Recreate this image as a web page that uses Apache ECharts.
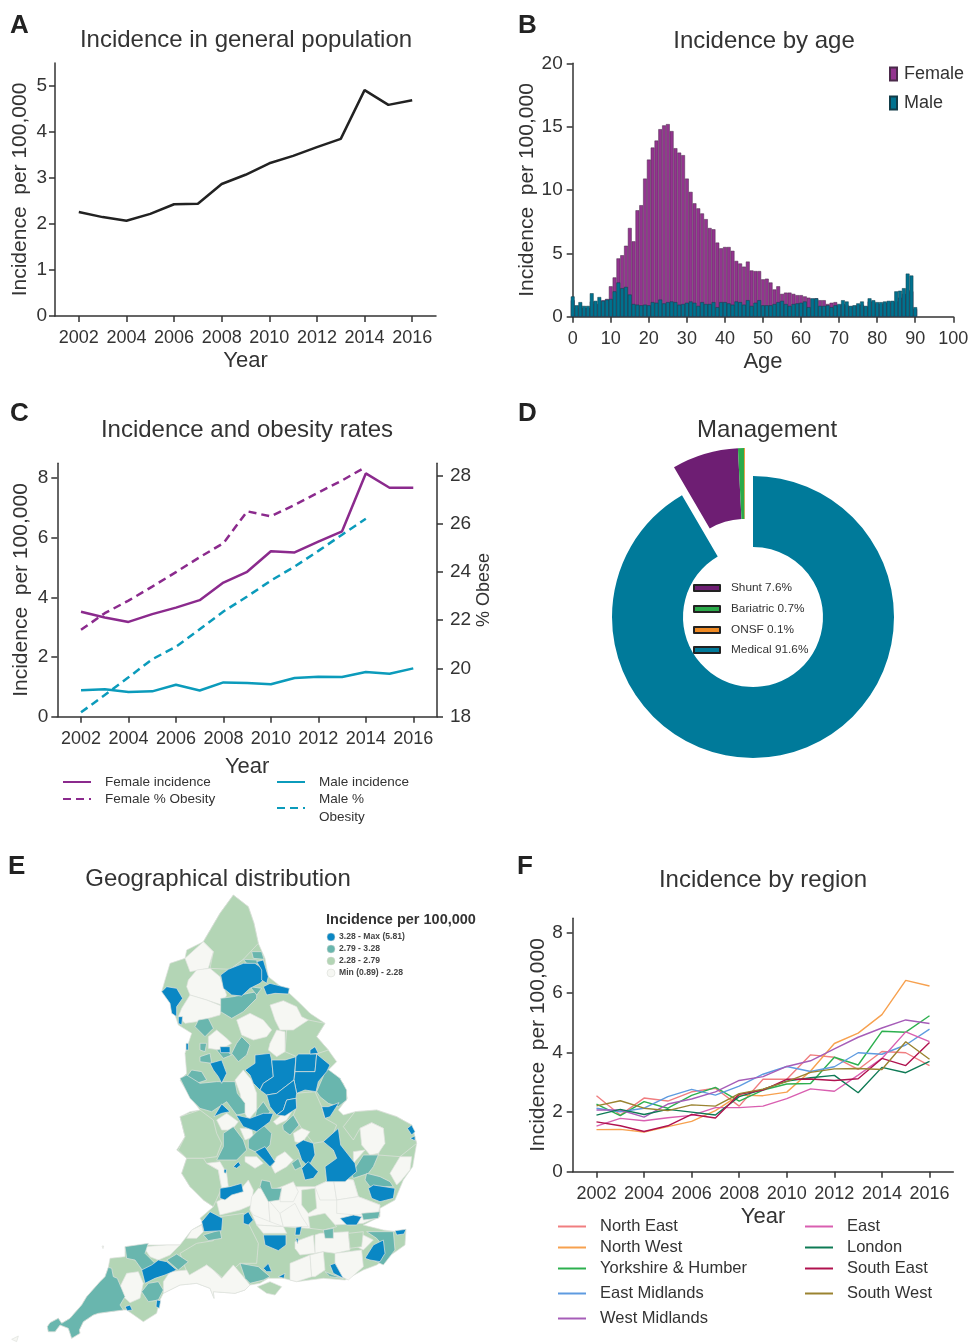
<!DOCTYPE html>
<html>
<head>
<meta charset="utf-8">
<title>Incidence figure</title>
<style>
  html, body { margin: 0; padding: 0; background: #fff; }
  #chart { width: 968px; height: 1343px; }
</style>
<script src="https://cdn.jsdelivr.net/npm/echarts@6/dist/echarts.min.js"></script>
</head>
<body>
<div id="chart"></div>
<script>
// ---- data ----
const years = [2002, 2003, 2004, 2005, 2006, 2007, 2008, 2009, 2010, 2011, 2012, 2013, 2014, 2015, 2016];
const yearTicks = [2002, 2004, 2006, 2008, 2010, 2012, 2014, 2016];

const generalIncidence = [2.26, 2.15, 2.07, 2.22, 2.43, 2.44, 2.87, 3.07, 3.32, 3.48, 3.67, 3.85, 4.91, 4.59, 4.69];

// ages 0..100 on the axis, bars only run to 90
const ageCategories = [];
for (let a = 0; a <= 100; a++) ageCategories.push(String(a));
const femaleByAge = [
  1.3, 0.7, 0.9, 0.7, 0.7, 1.2, 1.0, 1.0, 1.3, 1.4,
  2.4, 3.1, 4.6, 4.85, 5.6, 7.0, 5.95, 8.4, 8.8, 10.9,
  12.4, 13.35, 13.9, 14.8, 15.1, 15.2, 14.65, 13.3, 12.95, 12.75,
  10.9, 9.85, 8.95, 8.55, 8.15, 7.7, 7.0, 6.9, 5.85, 5.4,
  5.5, 5.5, 5.2, 4.4, 4.2, 3.95, 4.35, 3.65, 3.6, 3.6,
  2.95, 3.0, 2.7, 2.15, 2.4, 1.8, 1.9, 1.9, 1.8, 1.7,
  1.7, 1.6, 1.5, 1.4, 1.45, 1.3, 1.3, 1.0, 1.1, 1.15,
  0.9, 1.0, 0.9, 0.8, 0.85, 0.9, 0.95, 0.8, 1.2, 1.2,
  1.05, 1.0, 1.1, 1.1, 1.2, 1.2, 1.5, 1.8, 2.1, 2.0, 0.6
];
const maleByAge = [
  1.6, 0.9, 1.15, 0.85, 0.85, 1.85, 1.25, 1.55, 1.25, 1.35,
  1.4, 2.0, 2.7, 2.25, 2.35, 1.75, 1.0, 0.95, 0.9, 0.95,
  0.9, 1.15, 1.1, 1.35, 1.05, 1.15, 1.2, 1.15, 0.95, 1.0,
  1.1, 1.2, 1.1, 0.85, 1.15, 1.0, 1.0, 1.15, 0.75, 1.15,
  1.15, 1.05, 0.95, 1.2, 1.15, 0.95, 1.3, 0.85, 1.1, 1.3,
  0.9, 0.9, 0.9, 1.0, 1.15, 1.25, 1.0, 0.85, 1.0, 1.05,
  1.1, 1.2, 0.75, 1.45, 1.45, 0.85, 0.85, 0.9, 0.75, 0.9,
  1.0, 1.3, 1.2, 0.85, 0.9, 1.05, 1.2, 0.85, 1.45, 1.3,
  1.15, 1.15, 1.2, 1.25, 1.25, 2.0, 2.05, 2.25, 3.4, 3.25, 0.75
];

const femaleIncidence = [3.52, 3.33, 3.18, 3.44, 3.66, 3.91, 4.5, 4.86, 5.55, 5.51, 5.87, 6.22, 8.16, 7.68, 7.68];
const maleIncidence = [0.89, 0.92, 0.83, 0.85, 1.07, 0.88, 1.15, 1.13, 1.09, 1.3, 1.34, 1.33, 1.5, 1.44, 1.62];
const femaleObesity = [21.6, 22.29, 22.81, 23.39, 23.99, 24.61, 25.19, 26.51, 26.3, 26.78, 27.29, 27.79, 28.35];
const maleObesity = [18.18, 18.9, 19.63, 20.38, 20.9, 21.62, 22.36, 22.98, 23.64, 24.22, 24.87, 25.54, 26.2];

const managementNames = ['Shunt 7.6%', 'Bariatric 0.7%', 'ONSF 0.1%', 'Medical 91.6%'];
const managementShares = [7.6, 0.7, 0.1, 91.6];

const northEast = [2.55, 1.9, 2.47, 2.37, 2.68, 2.8, 2.2, 3.1, 3.1, 3.92, 3.84, 3.43, 4.03, 3.99, 3.56];
const northWest = [1.41, 1.42, 1.33, 1.51, 1.69, 2.05, 2.57, 2.55, 2.67, 3.38, 4.3, 4.65, 5.27, 6.42, 6.23];
const yorkshire = [2.27, 1.88, 2.35, 2.13, 2.56, 2.83, 2.37, 2.74, 2.94, 2.96, 3.84, 3.58, 4.71, 4.68, 5.23];
const eastMidlands = [2.13, 2.01, 2.13, 2.52, 2.76, 2.57, 2.87, 3.27, 3.53, 3.36, 3.52, 3.99, 3.94, 4.25, 4.78];
const westMidlands = [2.07, 2.07, 1.83, 2.27, 2.44, 2.68, 3.06, 3.19, 3.53, 3.72, 4.12, 4.51, 4.82, 5.09, 4.97];
const east = [1.53, 1.79, 1.71, 1.81, 1.89, 2.15, 2.15, 2.2, 2.45, 2.78, 2.7, 3.24, 3.8, 4.69, 4.36];
const london = [1.9, 2.09, 1.92, 2.09, 2.0, 1.9, 2.52, 2.76, 3.04, 3.15, 3.23, 2.65, 3.5, 3.32, 3.7];
const southEast = [1.67, 1.54, 1.35, 1.54, 1.92, 1.8, 2.6, 2.74, 3.1, 3.11, 3.06, 3.12, 3.8, 3.56, 4.33];
const southWest = [2.21, 2.38, 2.13, 2.05, 2.24, 2.2, 2.62, 2.77, 3.02, 3.33, 3.45, 3.46, 3.43, 4.36, 3.77];

const mapClassLabels = ['3.28 - Max (5.81)', '2.79 - 3.28', '2.28 - 2.79', 'Min (0.89) - 2.28'];

// area outlines for the map, traced flat as x,y,x,y in a 3x picture space
const greenAreas = [
  [700,45,745,80,762,130,775,190,795,235,805,290,868,340,900,370,930,400,975,430,950,470,985,510,1010,545,985,570,1030,610,1042,655,1015,690,1030,705,1065,695,1130,690,1190,710,1235,735,1250,790,1238,860,1210,900,1185,960,1140,985,1140,1010,1090,1035,1130,1045,1150,1050,1190,1055,1218,1048,1215,1095,1180,1120,1130,1155,1090,1170,1035,1200,970,1195,890,1205,850,1195,805,1195,780,1210,750,1215,735,1230,705,1240,640,1235,642,1255,630,1225,590,1210,540,1215,490,1240,480,1260,470,1300,430,1325,380,1290,370,1290,330,1295,295,1300,280,1305,250,1325,238,1350,240,1360,215,1375,205,1345,180,1335,165,1355,145,1355,142,1340,150,1328,175,1315,185,1330,210,1315,245,1275,260,1250,300,1205,315,1190,325,1162,330,1135,375,1130,375,1100,440,1095,500,1095,540,1095,575,1050,610,1030,600,1015,640,980,610,960,615,950,570,920,545,880,560,835,530,810,555,770,540,710,570,695,600,690,570,650,540,600,560,580,555,520,565,490,575,460,535,435,525,405,505,350,485,335,495,300,510,250,555,235,560,210,610,185,660,100],
  [535,810,555,770,540,710,600,690,640,720,650,760,665,790,650,830,610,835,560,835],
  [545,880,560,835,610,835,620,850,655,870,665,925,640,980,610,960,570,920],
  [590,1090,640,1082,660,1010,730,1000,775,1090,770,1150,720,1150,670,1195,620,1155,570,1190,560,1175,540,1120],
  [772,1220,810,1205,845,1220,825,1245,800,1240],
  [885,640,945,635,965,680,975,715,1010,735,1000,760,970,785,940,790,905,745,880,705,890,680],
  [1065,695,1130,690,1190,710,1235,735,1250,790,1200,830,1135,825,1150,745,1115,728,1080,745,1060,780,1030,740],
  [660,100,700,45,745,80,762,130,775,190,730,238,690,268,630,265,640,215,610,185],
  [860,450,925,420,975,430,950,470,985,510,940,525,890,530,855,515]
];
const whiteAreas = [
  [755,950,845,920,945,920,1000,895,1060,900,1075,950,1140,975,1135,1010,1090,1030,1000,1035,925,1045,850,1040,770,1035,750,990],
  [960,1060,1045,1055,1050,1110,1005,1120,970,1115,945,1120,945,1065],
  [555,235,610,185,640,215,625,265,570,275],
  [565,300,590,270,630,265,660,290,680,345,665,375,620,360,570,345,560,320],
  [545,385,570,345,620,360,665,378,660,405,625,415,590,425,555,430,535,410],
  [810,375,850,362,890,380,905,410,925,420,880,450,840,450,825,420],
  [710,420,750,400,790,420,815,450,800,470,760,480,725,465],
  [625,470,650,450,680,475,695,490,660,510,625,505],
  [810,490,830,450,855,455,855,515,830,530,805,510],
  [705,600,730,570,755,600,770,640,770,690,745,720,730,690,720,640],
  [820,725,850,700,875,695,860,720,830,735],
  [650,720,680,700,715,725,695,750,665,750],
  [720,745,755,745,760,770,735,780],
  [880,760,905,745,930,755,905,790,885,785],
  [1080,745,1115,728,1150,745,1155,790,1135,820,1110,825,1085,795],
  [1170,880,1200,830,1235,830,1230,870,1205,900,1190,915],
  [830,830,855,815,880,840,860,860,825,880,815,860],
  [735,830,770,830,790,850,765,865,735,845],
  [1060,815,1095,810,1060,850],
  [620,850,660,845,680,880,685,920,665,925,655,870],
  [945,920,1000,895,1010,960,960,960],
  [1000,895,1060,900,1075,950,1010,960],
  [1010,960,1075,950,1140,975,1135,1000,1070,1005,1010,1000],
  [650,965,720,930,745,900,760,930,755,975,720,990,660,1005],
  [755,950,775,925,810,930,805,960,810,1025,760,1005,750,990],
  [805,960,840,1000,850,1040,810,1025],
  [840,1000,885,970,905,1010,925,1040,890,1040,850,1040],
  [845,920,880,905,895,935,880,965,840,965],
  [560,1075,575,1050,605,1035,610,1055,590,1075],
  [770,1035,850,1040,860,1060,790,1060],
  [885,1085,940,1065,945,1120,900,1125,885,1105],
  [870,1200,870,1150,930,1125,935,1190,890,1205],
  [930,1125,970,1115,975,1170,945,1190,935,1190],
  [1005,1120,1085,1110,1090,1160,1045,1200,1025,1190,1005,1150],
  [1060,1095,1090,1065,1120,1080,1090,1110],
  [430,1100,500,1095,540,1095,510,1125,475,1140,450,1130],
  [360,1220,380,1180,415,1175,430,1210,420,1255,390,1268,365,1245],
  [490,1205,510,1175,560,1170,568,1185,620,1155,640,1170,665,1195,700,1155,730,1190,750,1215,735,1230,705,1240,640,1235,642,1255,630,1225,590,1210,540,1215,490,1240],
  [35,1378,55,1368,50,1385],
  [306,1098,311,1098,309,1106]
];
// green districts lying inside the white south-east block
const greenPatches = [
  [905,930,945,925,950,985,925,1000,905,975],
  [925,1010,975,1000,1010,1040,970,1050,930,1045],
  [1045,1060,1090,1055,1085,1100,1050,1105]
];
const tealAreas = [
  [755,215,785,215,792,238,760,235],
  [730,238,770,240,775,252,740,250],
  [662,355,700,350,745,340,770,335,770,355,730,395,695,415,662,395],
  [750,320,785,325,770,345],
  [595,420,625,415,640,445,615,470,585,440],
  [710,490,725,470,750,495,740,525,715,545,695,520],
  [650,510,670,505,695,525,670,535],
  [600,490,620,490,615,515,600,510],
  [600,530,630,520,635,550,600,545],
  [560,590,575,570,605,575,620,600,590,610,560,610],
  [540,595,560,585,600,610,650,605,705,605,712,640,735,670,735,700,710,705,680,665,635,695,600,685,570,655],
  [770,690,790,665,810,695,790,725,765,710],
  [950,635,980,565,1020,595,1040,630,1040,660,1015,680,985,670,960,650],
  [848,735,880,705,897,735,870,765,850,750],
  [670,760,700,740,730,780,740,810,710,840,650,840,670,800],
  [745,780,790,735,815,760,810,795,790,815,765,815,745,805],
  [1090,825,1135,825,1120,860,1105,880,1060,895,1055,880],
  [1100,880,1140,890,1170,905,1180,920,1110,920,1095,900],
  [785,900,810,905,815,925,845,925,838,960,805,965,780,920],
  [610,1065,660,1050,665,1075,625,1082],
  [1085,1000,1140,995,1135,1015,1090,1020],
  [1100,1055,1180,1055,1185,1110,1150,1155,1120,1140,1150,1100,1130,1075],
  [970,1050,1000,1045,1000,1075,975,1075],
  [375,1100,445,1090,435,1120,470,1155,430,1175,405,1140,380,1135],
  [500,1140,530,1122,565,1145,535,1170],
  [142,1340,150,1328,175,1315,185,1330,210,1315,245,1275,260,1250,300,1205,315,1190,325,1162,335,1165,340,1190,352,1195,375,1250,360,1275,370,1290,330,1295,295,1300,280,1305,250,1325,238,1350,240,1360,215,1375,205,1345,180,1335,165,1355,145,1355],
  [425,1235,445,1210,475,1205,490,1230,475,1260,445,1265],
  [720,1150,775,1160,810,1190,790,1200,750,1210,735,1195],
  [975,1175,1000,1185,1030,1195,990,1190],
  [875,850,895,835,905,860,885,870]
];
const blueAreas = [
  [662,285,685,268,730,250,765,250,790,268,800,290,780,310,750,325,725,348,695,345,670,325],
  [770,245,790,240,805,290,800,310,785,300,785,270],
  [790,320,810,310,868,325,865,342,825,340,800,345],
  [485,335,500,320,530,325,548,355,530,380,530,410,515,400,510,370],
  [535,410,548,410,545,435,535,430],
  [558,490,565,490,565,510,558,510],
  [660,500,690,500,690,518,662,518],
  [630,550,665,540,680,580,665,610,655,590,640,570],
  [735,570,765,550,765,525,810,520,815,540,820,590,790,610,780,630,760,610,750,585],
  [815,540,855,540,888,530,882,600,830,640,800,645,780,630,790,610,820,590],
  [888,530,895,522,950,522,945,575,885,575],
  [950,522,990,555,980,575,955,605,948,635,915,630,890,640,882,600,885,575,945,575],
  [830,640,882,600,890,640,888,655,860,660,850,690,830,705,810,680,800,645],
  [860,660,888,655,890,685,855,708,830,705,850,690],
  [930,510,945,500,955,520,930,522],
  [965,680,985,680,1017,668,990,710,975,715],
  [642,710,665,672,690,695,665,700],
  [708,705,750,715,790,700,820,700,810,725,770,755,730,740],
  [1222,745,1235,735,1245,755,1235,765],
  [1230,775,1245,768,1245,782],
  [885,795,910,780,940,790,945,825,925,860,905,840,895,810],
  [905,865,925,845,955,875,940,895,915,900],
  [970,785,1015,745,1022,795,1065,850,1070,875,1035,905,980,905,975,860,1010,835,1000,810],
  [765,815,795,800,825,845,810,860,790,840],
  [700,860,715,845,722,855,710,865],
  [672,868,680,868,678,880,672,878],
  [660,925,690,920,725,910,730,935,695,945,675,960,660,955],
  [1105,925,1120,915,1185,925,1180,955,1140,965,1115,955],
  [605,1025,630,995,668,1015,665,1052,612,1055],
  [730,1005,745,995,760,1020,745,1035,730,1030],
  [888,1042,905,1040,900,1065,885,1065],
  [887,1075,895,1075,893,1092],
  [790,1065,858,1065,858,1095,835,1112,795,1095],
  [1020,1015,1060,1005,1085,1010,1070,1035,1040,1035],
  [1185,1052,1218,1048,1212,1062,1190,1065],
  [1095,1135,1120,1095,1150,1080,1155,1120,1140,1145,1110,1140],
  [425,1170,455,1155,475,1140,500,1145,530,1170,495,1185,465,1195,435,1210],
  [375,1280,390,1275,397,1290,382,1292],
  [470,1260,482,1262,478,1285,468,1280],
  [790,1165,805,1150,815,1175,800,1175],
  [835,1190,855,1180,852,1195],
  [990,1155,1005,1150,1030,1195,1000,1180]
];

// ---- styling ----
const FONT = '"Liberation Sans", Arial, sans-serif';
const TEXT = '#333333';
const AXIS = '#333333';
const PURPLE = '#8B2A8D';
const BLUE = '#0B9BBB';
const MAP_BLUE = '#0A87C4', MAP_TEAL = '#69B6AE', MAP_GREEN = '#B3D5B5', MAP_WHITE = '#F6F7F3';

function pairs(xs, ys) {
  return ys.map(function (y, i) { return [xs[i], y]; });
}

function axisLine() {
  return { show: true, onZero: false, lineStyle: { color: AXIS, width: 1.5 } };
}

function xAxis(gridIndex, min, max, ticks, name, nameGap, nameSize) {
  return {
    type: 'value', gridIndex: gridIndex, min: min, max: max,
    name: name, nameLocation: 'middle', nameGap: nameGap,
    nameTextStyle: { color: TEXT, fontFamily: FONT, fontSize: nameSize },
    axisLine: axisLine(),
    axisTick: { show: true, length: 6, customValues: ticks, lineStyle: { color: AXIS, width: 1.5 } },
    axisLabel: { color: TEXT, fontFamily: FONT, fontSize: 18, margin: 13, customValues: ticks, formatter: function (v) { return String(v); } },
    splitLine: { show: false }
  };
}

function yAxis(gridIndex, min, max, ticks, name, nameGap, margin, nameSize, position) {
  return {
    type: 'value', gridIndex: gridIndex, min: min, max: max, position: position || 'left',
    name: name, nameLocation: 'middle', nameGap: nameGap, nameRotate: 90,
    nameTextStyle: { color: TEXT, fontFamily: FONT, fontSize: nameSize },
    axisLine: axisLine(),
    axisTick: { show: true, length: 6, customValues: ticks, lineStyle: { color: AXIS, width: 1.5 } },
    axisLabel: { color: TEXT, fontFamily: FONT, fontSize: 19, margin: margin, customValues: ticks },
    splitLine: { show: false }
  };
}

function lineSeries(name, xIdx, yIdx, data, color, width, dashed) {
  return {
    type: 'line', name: name, xAxisIndex: xIdx, yAxisIndex: yIdx,
    data: data, symbol: 'none', smooth: false, silent: true,
    lineStyle: { color: color, width: width, type: dashed ? [8, 5] : 'solid' },
    itemStyle: { color: color }
  };
}

// transparent itemStyle hides the round marker a line series puts in its legend entry
function lineLegend(name, left, top, fontSize, gap, extra) {
  return Object.assign({
    data: [name], left: left, top: top, padding: 0, selectedMode: false,
    itemWidth: 28, itemHeight: 12, orient: 'horizontal',
    itemStyle: { color: 'transparent', borderColor: 'transparent', borderWidth: 0 },
    textStyle: { color: TEXT, fontFamily: FONT, fontSize: fontSize, padding: [0, 0, 0, gap] }
  }, extra || {});
}

function boxLegend(name, left, top, fontSize, gap, extra) {
  return Object.assign({
    data: [name], left: left, top: top, padding: 0, selectedMode: false,
    icon: 'rect', orient: 'horizontal',
    textStyle: { color: TEXT, fontFamily: FONT, fontSize: fontSize, padding: [0, 0, 0, gap] }
  }, extra);
}

function titleAt(text, x, y) {
  return { text: text, left: x, top: y, textAlign: 'center', padding: 0,
    textStyle: { color: '#333333', fontFamily: FONT, fontSize: 24, fontWeight: 'normal' } };
}

function letterAt(text, x, y) {
  return { text: text, left: x, top: y, padding: 0,
    textStyle: { color: '#222222', fontFamily: FONT, fontSize: 26, fontWeight: 'bold' } };
}

// ---- map ----
const mapFeatures = [];
const mapData = [];
let minX = Infinity, maxX = -Infinity, minY = Infinity, maxY = -Infinity;
function addAreas(areas, color, prefix) {
  areas.forEach(function (flat, i) {
    const ring = [];
    for (let k = 0; k < flat.length; k += 2) {
      ring.push([flat[k], -flat[k + 1]]);
      minX = Math.min(minX, flat[k]); maxX = Math.max(maxX, flat[k]);
      minY = Math.min(minY, flat[k + 1]); maxY = Math.max(maxY, flat[k + 1]);
    }
    ring.push(ring[0].slice());
    const name = prefix + i;
    mapFeatures.push({ type: 'Feature', properties: { name: name }, geometry: { type: 'Polygon', coordinates: [ring] } });
    mapData.push({ name: name, value: 1, itemStyle: { areaColor: color } });
  });
}
addAreas(greenAreas, MAP_GREEN, 'g');
addAreas(whiteAreas, MAP_WHITE, 'w');
addAreas(greenPatches, MAP_GREEN, 'p');
addAreas(tealAreas, MAP_TEAL, 't');
addAreas(blueAreas, MAP_BLUE, 'b');
echarts.registerMap('england', { type: 'FeatureCollection', features: mapFeatures });

// ---- series ----
const series = [];
series.push(lineSeries('Incidence', 0, 0, pairs(years, generalIncidence), '#222222', 2.5));

series.push({
  type: 'bar', name: 'Female', xAxisIndex: 1, yAxisIndex: 1, data: femaleByAge,
  barWidth: 3.8, barGap: '-100%', clip: false, silent: true,
  itemStyle: { color: '#93348F', borderColor: '#4a2a4a', borderWidth: 0.5 }
});
series.push({
  type: 'bar', name: 'Male', xAxisIndex: 1, yAxisIndex: 1, data: maleByAge,
  barWidth: 3.8, barGap: '-100%', clip: false, silent: true,
  itemStyle: { color: '#00728F', borderColor: '#123c48', borderWidth: 0.5 }
});

series.push(lineSeries('Female incidence', 2, 2, pairs(years, femaleIncidence), PURPLE, 2.5));
series.push(lineSeries('Female % Obesity', 2, 3, pairs(years, femaleObesity), PURPLE, 2.5, true));
series.push(lineSeries('Male incidence', 2, 2, pairs(years, maleIncidence), BLUE, 2.5));
series.push(lineSeries('Male % Obesity', 2, 3, pairs(years, maleObesity), BLUE, 2.5, true));

const sliceColors = ['#6E1E73', '#2BAA4A', '#F08A24', '#007A9A'];
function pieItem(i) {
  return { name: managementNames[i], value: managementShares[i], itemStyle: { color: sliceColors[i] } };
}
const pieBase = {
  type: 'pie', radius: [70, 141], startAngle: 90, clockwise: true, silent: true,
  label: { show: false }, labelLine: { show: false }, emphasis: { disabled: true }
};
series.push(Object.assign({}, pieBase, {
  center: [753, 617],
  data: [pieItem(3), { name: 'rest', value: managementShares[0] + managementShares[1] + managementShares[2], itemStyle: { color: 'transparent' } }]
}));
// the three small slices are pulled out together, so they get their own centre
series.push(Object.assign({}, pieBase, {
  center: [745, 589],
  data: [{ name: 'other', value: managementShares[3], itemStyle: { color: 'transparent' } }, pieItem(0), pieItem(1), pieItem(2)]
}));

series.push({
  type: 'map', map: 'england', aspectScale: 1, silent: true, roam: false, showLegendSymbol: false,
  layoutCenter: [(minX + maxX) / 2 / 3, (minY + maxY) / 2 / 3 + 880],
  layoutSize: Math.max(maxX - minX, maxY - minY) / 3,
  label: { show: false }, emphasis: { disabled: true }, select: { disabled: true },
  itemStyle: { borderColor: '#dfe3de', borderWidth: 0.7 },
  data: mapData
});

const regionSeries = [
  ['North East', northEast, '#F07E80'],
  ['North West', northWest, '#F7A14F'],
  ['Yorkshire & Humber', yorkshire, '#2DB04F'],
  ['East Midlands', eastMidlands, '#5E9BE0'],
  ['West Midlands', westMidlands, '#A65DB8'],
  ['East', east, '#D95FB0'],
  ['London', london, '#0E7A55'],
  ['South East', southEast, '#B0124F'],
  ['South West', southWest, '#9A8330']
];
regionSeries.forEach(function (r) {
  series.push(lineSeries(r[0], 3, 4, pairs(years, r[1]), r[2], 1.4));
});

// ---- legends, one per entry because the rows are unevenly spaced ----
const legends = [
  boxLegend('Female', 889, 65, 18, 2, { itemWidth: 7, itemHeight: 13 }),
  boxLegend('Male', 889, 94, 18, 2, { itemWidth: 7, itemHeight: 13 }),
  lineLegend('Female incidence', 62, 775, 13.5, 9),
  lineLegend('Female % Obesity', 62, 792, 13.5, 9),
  lineLegend('Male incidence', 276, 775, 13.5, 9),
  lineLegend('Male % Obesity', 276, 790, 13.5, 9, {
    formatter: function () { return 'Male %\nObesity'; },
    textStyle: { color: TEXT, fontFamily: FONT, fontSize: 13.5, lineHeight: 18, padding: [0, 0, 0, 9] }
  })
];
const mgmtTops = [582, 603, 624, 644];
managementNames.forEach(function (n, i) {
  legends.push(boxLegend(n, 693, mgmtTops[i], 11.8, 6, { itemWidth: 26, itemHeight: 6, itemStyle: { borderColor: '#222', borderWidth: 2 } }));
});
const regionTops = [1218, 1239, 1260, 1285, 1310, 1218, 1239, 1260, 1285];
regionSeries.forEach(function (r, i) {
  legends.push(lineLegend(r[0], i < 5 ? 557 : 804, regionTops[i], 16.5, 9));
});

// ---- map key ----
const keyColors = [MAP_BLUE, MAP_TEAL, MAP_GREEN, MAP_WHITE];
const keyRows = [937, 949, 961, 973];
const graphics = [{
  type: 'text', left: 326, top: 912, silent: true,
  style: { text: 'Incidence per 100,000', fill: '#333', font: 'bold 14.5px ' + FONT }
}];
mapClassLabels.forEach(function (label, i) {
  graphics.push({ type: 'circle', silent: true, shape: { cx: 331, cy: keyRows[i], r: 4 }, style: { fill: keyColors[i], stroke: '#d4d8d3', lineWidth: 0.5 } });
  graphics.push({ type: 'text', left: 339, top: keyRows[i] - 5, silent: true, style: { text: label, fill: '#444', font: 'bold 8.6px ' + FONT } });
});

const option = {
  animation: false,
  backgroundColor: '#ffffff',
  title: [
    letterAt('A', 10, 13), titleAt('Incidence in general population', 246, 28),
    letterAt('B', 518, 13), titleAt('Incidence by age', 764, 29),
    letterAt('C', 10, 401), titleAt('Incidence and obesity rates', 247, 418),
    letterAt('D', 518, 401), titleAt('Management', 767, 418),
    letterAt('E', 8, 854), titleAt('Geographical distribution', 218, 867),
    letterAt('F', 517, 854), titleAt('Incidence by region', 763, 868)
  ],
  legend: legends,
  graphic: graphics,
  grid: [
    { left: 55, top: 63, width: 381, height: 253, outerBoundsMode: 'none' },
    { left: 572.7, top: 63.3, width: 380.6, height: 253.4, outerBoundsMode: 'none' },
    { left: 57.3, top: 463.3, width: 379.7, height: 253.4, outerBoundsMode: 'none' },
    { left: 572.7, top: 918.3, width: 380.6, height: 253.4, outerBoundsMode: 'none' }
  ],
  xAxis: [
    xAxis(0, 2001, 2017, yearTicks, 'Year', 34, 22),
    {
      type: 'category', gridIndex: 1, data: ageCategories, boundaryGap: false,
      name: 'Age', nameLocation: 'middle', nameGap: 34,
      nameTextStyle: { color: TEXT, fontFamily: FONT, fontSize: 22 },
      axisLine: axisLine(),
      axisTick: { show: true, length: 6, interval: 9, lineStyle: { color: AXIS, width: 1.5 } },
      axisLabel: { color: TEXT, fontFamily: FONT, fontSize: 18, margin: 13, interval: 9, hideOverlap: false },
      splitLine: { show: false }
    },
    xAxis(2, 2001, 2017, yearTicks, 'Year', 39, 22),
    xAxis(3, 2001, 2017, yearTicks, 'Year', 34, 22)
  ],
  yAxis: [
    yAxis(0, 0, 5.5, [0, 1, 2, 3, 4, 5], 'Incidence  per 100,000', 24, 8, 21),
    yAxis(1, 0, 20, [0, 5, 10, 15, 20], 'Incidence  per 100,000', 31, 10, 21),
    yAxis(2, 0, 8.5, [0, 2, 4, 6, 8], 'Incidence  per 100,000', 26, 9, 21),
    yAxis(2, 18, 28.5, [18, 20, 22, 24, 26, 28], '% Obese', 33, 13, 18, 'right'),
    yAxis(3, 0, 8.5, [0, 2, 4, 6, 8], 'Incidence  per 100,000', 21, 10, 21)
  ],
  series: series
};

const chart = echarts.init(document.getElementById('chart'), null, { renderer: 'canvas' });
chart.setOption(option);
</script>
</body>
</html>
